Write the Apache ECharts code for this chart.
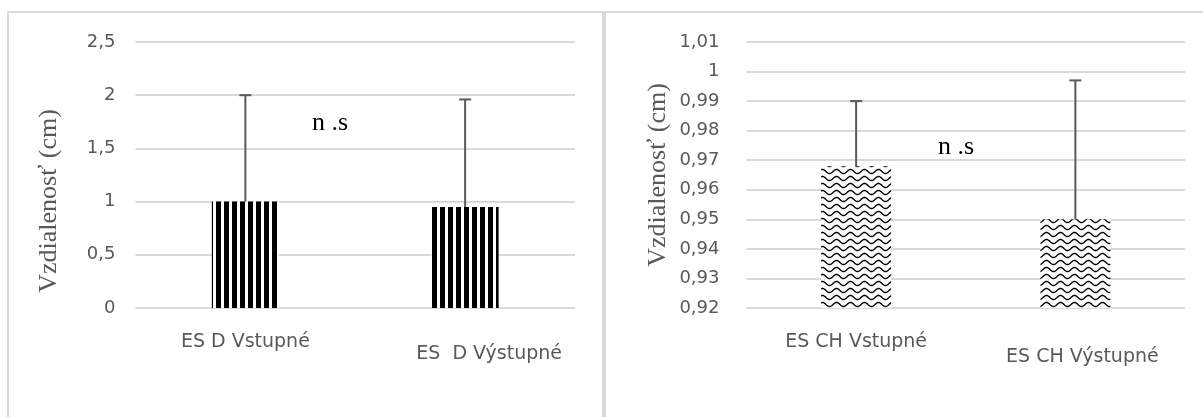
<!DOCTYPE html>
<html>

<head>
    <meta charset="utf-8">
    <title>Vzdialenost ES</title>
    <script src="https://cdn.jsdelivr.net/npm/echarts@6/dist/echarts.min.js"></script>
</head>

<body style="margin:0;background:#fff;">
    <div id="main" style="width: 1203px;height:417px;"></div>
    <script>
        // left chart (D)
        var catsD = ['ES D Vstupné', 'ES  D Výstupné'];
        var meanD = [1.0, 0.95];
        var errD = [1.0, 1.01];
        var ticksD = { min: 0, max: 2.5, interval: 0.5 };

        // right chart (CH)
        var catsCH = ['ES CH Vstupné', 'ES CH Výstupné'];
        var meanCH = [0.968, 0.95];
        var errCH = [0.022, 0.047];
        var ticksCH = { min: 0.92, max: 1.01, interval: 0.01 };

        var axisTitle = 'Vzdialenosť (cm)';
        var note = 'n .s';

        var grey = '#595959';
        var lineGrey = '#d9d9d9';

        // vertical stripes
        function stripes() {
            var c = document.createElement('canvas');
            c.width = 8; c.height = 8;
            var g = c.getContext('2d');
            g.fillStyle = '#fff';
            g.fillRect(0, 0, 8, 8);
            g.fillStyle = '#000';
            g.fillRect(0, 0, 5, 8);
            return c;
        }

        // wavy lines
        function waves() {
            var c = document.createElement('canvas');
            c.width = 14; c.height = 7;
            var g = c.getContext('2d');
            g.fillStyle = '#fff';
            g.fillRect(0, 0, 14, 7);
            g.strokeStyle = '#000';
            g.lineWidth = 1.4;
            g.beginPath();
            for (var x = -1; x <= 15; x += 0.5) {
                var y = 3.5 + 2 * Math.sin(x / 14 * Math.PI * 2);
                if (x === -1) g.moveTo(x, y); else g.lineTo(x, y);
            }
            g.stroke();
            return c;
        }

        function fmt(v) {
            return String(+v.toFixed(2)).replace('.', ',');
        }

        function errData(mean, err) {
            return mean.map(function (m, i) { return [i, m, m + err[i]]; });
        }

        function errorBar(params, api) {
            var lo = api.coord([api.value(0), api.value(1)]);
            var hi = api.coord([api.value(0), api.value(2)]);
            var st = { stroke: grey, lineWidth: 2 };
            return {
                type: 'group',
                children: [
                    { type: 'line', shape: { x1: lo[0], y1: lo[1], x2: hi[0], y2: hi[1] }, style: st },
                    { type: 'line', shape: { x1: hi[0] - 6, y1: hi[1], x2: hi[0] + 6, y2: hi[1] }, style: st }
                ]
            };
        }

        function yAxisOf(idx, t, margin, gap, pad) {
            return {
                type: 'value',
                gridIndex: idx,
                min: t.min,
                max: t.max,
                interval: t.interval,
                name: axisTitle,
                nameLocation: 'middle',
                nameGap: gap,
                nameTextStyle: {
                    fontFamily: 'Liberation Serif',
                    fontSize: 26,
                    color: grey,
                    padding: pad
                },
                axisLine: { show: false },
                axisTick: { show: false },
                axisLabel: {
                    margin: margin,
                    fontFamily: 'DejaVu Sans',
                    fontSize: 18,
                    color: grey,
                    formatter: fmt
                },
                splitLine: { lineStyle: { color: lineGrey, width: 2 } }
            };
        }

        function xAxisOf(idx, cats, shift) {
            return {
                type: 'category',
                gridIndex: idx,
                data: cats.map(function (c, i) {
                    return { value: c, textStyle: { padding: shift[i] } };
                }),
                axisLine: { show: false },
                axisTick: { show: false },
                axisLabel: {
                    margin: 25,
                    fontFamily: 'DejaVu Sans',
                    fontSize: 19,
                    color: grey,
                    interval: 0
                }
            };
        }

        var myChart = echarts.init(document.getElementById('main'));
        var option = {
            backgroundColor: '#fff',
            animation: false,
            grid: [
                { left: 135.5, width: 439.5, top: 42, height: 266 },
                { left: 746.5, width: 438.5, top: 42, height: 266 }
            ],
            xAxis: [
                xAxisOf(0, catsD, [[0, 0, 0, 0], [12, 0, 0, 48]]),
                xAxisOf(1, catsCH, [[0, 0, 0, 0], [15, 0, 0, 14]])
            ],
            yAxis: [
                yAxisOf(0, ticksD, 20, 73, [0, 52, 0, 0]),
                yAxisOf(1, ticksCH, 27, 75, [0, 0, 0, 0])
            ],
            graphic: [
                { type: 'rect', shape: { x: 8, y: 12, width: 595, height: 430 }, style: { fill: null, stroke: lineGrey, lineWidth: 2 }, silent: true },
                { type: 'rect', shape: { x: 605, y: 12, width: 610, height: 430 }, style: { fill: null, stroke: lineGrey, lineWidth: 2 }, silent: true },
                { type: 'text', left: 312, top: 110, style: { text: note, font: '26px "Liberation Serif"', fill: '#000' } },
                { type: 'text', left: 938, top: 134, style: { text: note, font: '26px "Liberation Serif"', fill: '#000' } }
            ],
            series: [
                {
                    type: 'bar',
                    xAxisIndex: 0,
                    yAxisIndex: 0,
                    barWidth: 67,
                    data: meanD,
                    itemStyle: { color: { image: stripes(), repeat: 'repeat' } }
                },
                {
                    type: 'custom',
                    xAxisIndex: 0,
                    yAxisIndex: 0,
                    renderItem: errorBar,
                    data: errData(meanD, errD),
                    z: 5
                },
                {
                    type: 'bar',
                    xAxisIndex: 1,
                    yAxisIndex: 1,
                    barWidth: 70,
                    data: meanCH,
                    itemStyle: { color: { image: waves(), repeat: 'repeat' } }
                },
                {
                    type: 'custom',
                    xAxisIndex: 1,
                    yAxisIndex: 1,
                    renderItem: errorBar,
                    data: errData(meanCH, errCH),
                    z: 5
                }
            ]
        };
        myChart.setOption(option);
    </script>
</body>

</html>
